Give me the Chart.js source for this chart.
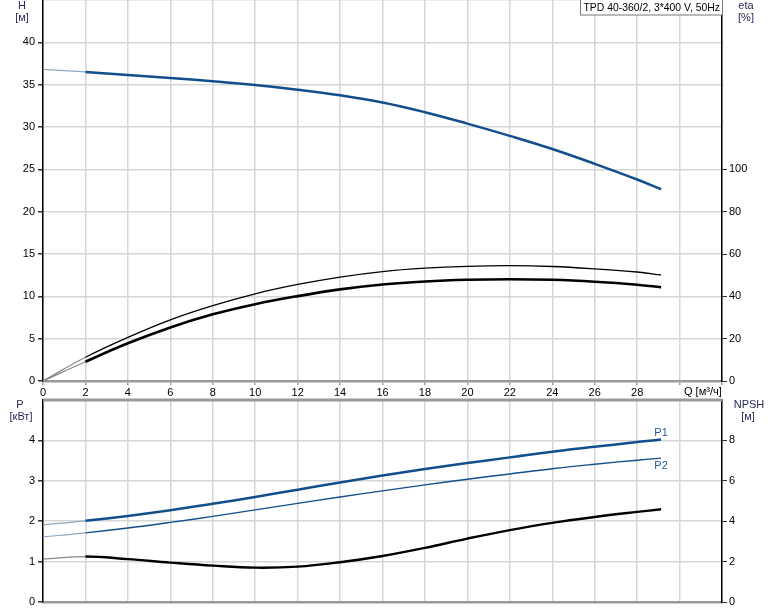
<!DOCTYPE html>
<html>
<head>
<meta charset="utf-8">
<script src="https://cdn.jsdelivr.net/npm/chart.js@4.4.0/dist/chart.umd.min.js"></script>
<style>
  html, body { margin: 0; padding: 0; background: #fff; }
  #wrap { position: relative; width: 774px; height: 611px; overflow: hidden; }
  #top { position: absolute; left: 0; top: 0; width: 774px; height: 398px; }
  #bottom { position: absolute; left: 0; top: 396px; width: 774px; height: 215px; }
</style>
</head>
<body>
<div id="wrap">
  <div id="top"><canvas id="chartTop"></canvas></div>
  <div id="bottom"><canvas id="chartBottom"></canvas></div>
</div>
<script>
// flow rate Q [m3/h]
const qVals = [0, 2, 4, 6, 8, 10, 12, 14, 16, 18, 20, 22, 24, 26, 28, 29.13];
// head H [m]
const headH = [36.8, 36.5, 36.15, 35.8, 35.4, 34.95, 34.4, 33.75, 32.9, 31.75, 30.4, 28.95, 27.4, 25.65, 23.8, 22.65];
// efficiency [%]
const etaThin = [0, 11.2, 20.6, 28.9, 35.6, 41.2, 45.6, 49.1, 51.7, 53.3, 54.2, 54.5, 54.1, 53.0, 51.5, 50.1];
const etaThick = [0, 9.1, 17.8, 25.3, 31.5, 36.3, 40.1, 43.3, 45.6, 47.0, 47.8, 48.1, 47.8, 46.9, 45.5, 44.3];
// power [kW]
const powerP1 = [1.91, 2.01, 2.13, 2.27, 2.43, 2.60, 2.78, 2.96, 3.13, 3.29, 3.44, 3.58, 3.72, 3.84, 3.96, 4.02];
const powerP2 = [1.61, 1.71, 1.83, 1.97, 2.12, 2.28, 2.44, 2.60, 2.75, 2.90, 3.04, 3.17, 3.30, 3.41, 3.51, 3.56];
// NPSH [m]
const npsh = [2.12, 2.25, 2.12, 1.95, 1.80, 1.70, 1.75, 1.97, 2.28, 2.68, 3.14, 3.56, 3.92, 4.21, 4.46, 4.59];

const BLUE = "#124e8c";
const GRID = "#d6d6d6";
const TITLE = "#2a2a5a";
const FONT = "'Liberation Sans', Arial, sans-serif";

Chart.defaults.font.family = FONT;
Chart.defaults.font.size = 11;
Chart.defaults.color = "#000";

function pts(ys) {
  return qVals.map((q, i) => ({ x: q, y: ys[i] }));
}

// first segment (0..2) is drawn lighter and thinner
function firstSeg(light, w) {
  return {
    borderColor: (c) => (c.p0DataIndex === 0 ? light : undefined),
    borderWidth: (c) => (c.p0DataIndex === 0 ? w : undefined),
  };
}

function line(ys, color, width, axis, light) {
  return {
    data: pts(ys),
    borderColor: color,
    borderWidth: width,
    pointRadius: 0,
    fill: false,
    tension: 0.4,
    yAxisID: axis,
    segment: firstSeg(light, 1.2),
  };
}

function fixW(w) {
  return (s) => {
    s.width = w;
    s.paddingTop = 0; s.paddingBottom = 0; s.paddingLeft = 0; s.paddingRight = 0;
  };
}
function fixH(h) {
  return (s) => {
    s.height = h;
    s.paddingTop = 0; s.paddingBottom = 0; s.paddingLeft = 0; s.paddingRight = 0;
  };
}

function txt(ctx, s, x, y, align, color) {
  ctx.fillStyle = color || "#000";
  ctx.textAlign = align || "center";
  ctx.textBaseline = "middle";
  ctx.fillText(s, x, y);
}

const topTexts = {
  id: "topTexts",
  afterDraw(chart) {
    const ctx = chart.ctx;
    ctx.save();
    ctx.font = "11px " + FONT;
    txt(ctx, "H", 22, 6, "center", TITLE);
    txt(ctx, "[м]", 22, 18, "center", TITLE);
    txt(ctx, "eta", 746, 6, "center", TITLE);
    txt(ctx, "[%]", 746, 18, "center", TITLE);
    txt(ctx, "Q [м³/ч]", 684, 392, "left");
    // model box
    ctx.fillStyle = "#fff";
    ctx.fillRect(580, 0, 142, 15);
    ctx.strokeStyle = "#777";
    ctx.lineWidth = 1;
    ctx.strokeRect(580.5, -0.5, 142, 15.5);
    ctx.font = "10.4px " + FONT;
    txt(ctx, "TPD 40-360/2, 3*400 V, 50Hz", 583.5, 8, "left");
    ctx.restore();
  },
};

const bottomTexts = {
  id: "bottomTexts",
  afterDraw(chart) {
    const ctx = chart.ctx;
    const a = chart.chartArea;
    const off = 396;
    ctx.save();
    ctx.strokeStyle = "#999";
    ctx.lineWidth = 3;
    ctx.beginPath();
    ctx.moveTo(a.left, a.top);
    ctx.lineTo(a.right, a.top);
    ctx.stroke();
    ctx.font = "11px " + FONT;
    txt(ctx, "P", 20, 405 - off, "center", TITLE);
    txt(ctx, "[кВт]", 21, 417 - off, "center", TITLE);
    txt(ctx, "NPSH", 749, 405 - off, "center", TITLE);
    txt(ctx, "[м]", 748, 417 - off, "center", TITLE);
    const x = chart.scales.x;
    const y = chart.scales.yP;
    const n = qVals.length - 1;
    const ex = x.getPixelForValue(qVals[n]);
    txt(ctx, "P1", ex, y.getPixelForValue(powerP1[n]) - 7, "center", "#1f5a9a");
    txt(ctx, "P2", ex, y.getPixelForValue(powerP2[n]) + 8, "center", "#1f5a9a");
    ctx.restore();
  },
};

const xCommon = {
  type: "linear",
  min: 0,
  max: 32,
  ticks: { stepSize: 2, padding: 1, maxRotation: 0, autoSkip: false,
    callback: (v) => (v >= 30 ? "" : v) },
  grid: { color: GRID, lineWidth: 1.5, tickLength: 4, tickColor: "#999" },
  border: { color: "#999", width: 2.5 },
};

new Chart(document.getElementById("chartTop"), {
  type: "line",
  data: {
    datasets: [
      line(headH, BLUE, 2.5, "yH", "#8ea6c6"),
      line(etaThin, "#000", 1.3, "yEta", "#888"),
      line(etaThick, "#000", 2.6, "yEta", "#888"),
    ],
  },
  options: {
    responsive: true,
    maintainAspectRatio: false,
    animation: false,
    layout: { padding: 0 },
    plugins: { legend: { display: false }, tooltip: { enabled: false } },
    scales: {
      x: Object.assign({}, xCommon, { afterFit: fixH(17) }),
      yH: {
        position: "left",
        min: 0,
        max: 45,
        ticks: { stepSize: 5, padding: 3, callback: (v) => (v > 40 ? "" : v) },
        grid: { color: GRID, lineWidth: 1.5, tickLength: 5,
          tickColor: (c) => (c.tick && c.tick.value > 40 ? "rgba(0,0,0,0)" : "#333") },
        border: { color: "#000", width: 1.5 },
        afterFit: fixW(43),
      },
      yEta: {
        position: "right",
        min: 0,
        max: 180,
        ticks: { stepSize: 20, padding: 2, callback: (v) => (v > 100 ? "" : v) },
        grid: { drawOnChartArea: false, tickLength: 5,
          tickColor: (c) => (c.tick && c.tick.value > 100 ? "rgba(0,0,0,0)" : "#333") },
        border: { color: "#000", width: 1.5 },
        afterFit: fixW(52),
      },
    },
  },
  plugins: [topTexts],
});

new Chart(document.getElementById("chartBottom"), {
  type: "line",
  data: {
    datasets: [
      line(powerP1, BLUE, 2.5, "yP", "#8ea6c6"),
      line(powerP2, BLUE, 1.4, "yP", "#8ea6c6"),
      line(npsh, "#000", 2.4, "yN", "#888"),
    ],
  },
  options: {
    responsive: true,
    maintainAspectRatio: false,
    animation: false,
    layout: { padding: { top: 4 } },
    plugins: { legend: { display: false }, tooltip: { enabled: false } },
    scales: {
      x: Object.assign({}, xCommon, {
        ticks: { display: false, stepSize: 2 },
        grid: { color: GRID, lineWidth: 1.5, drawTicks: false },
        afterFit: fixH(9),
      }),
      yP: {
        position: "left",
        min: 0,
        max: 5,
        ticks: { stepSize: 1, padding: 3, callback: (v) => (v > 4 ? "" : v) },
        grid: { color: GRID, lineWidth: 1.5, tickLength: 5,
          tickColor: (c) => (c.tick && c.tick.value > 4 ? "rgba(0,0,0,0)" : "#333") },
        border: { color: "#000", width: 1.5 },
        afterFit: fixW(43),
      },
      yN: {
        position: "right",
        min: 0,
        max: 10,
        ticks: { stepSize: 2, padding: 2, callback: (v) => (v > 8 ? "" : v) },
        grid: { drawOnChartArea: false, tickLength: 5,
          tickColor: (c) => (c.tick && c.tick.value > 8 ? "rgba(0,0,0,0)" : "#333") },
        border: { color: "#000", width: 1.5 },
        afterFit: fixW(52),
      },
    },
  },
  plugins: [bottomTexts],
});
</script>
</body>
</html>
